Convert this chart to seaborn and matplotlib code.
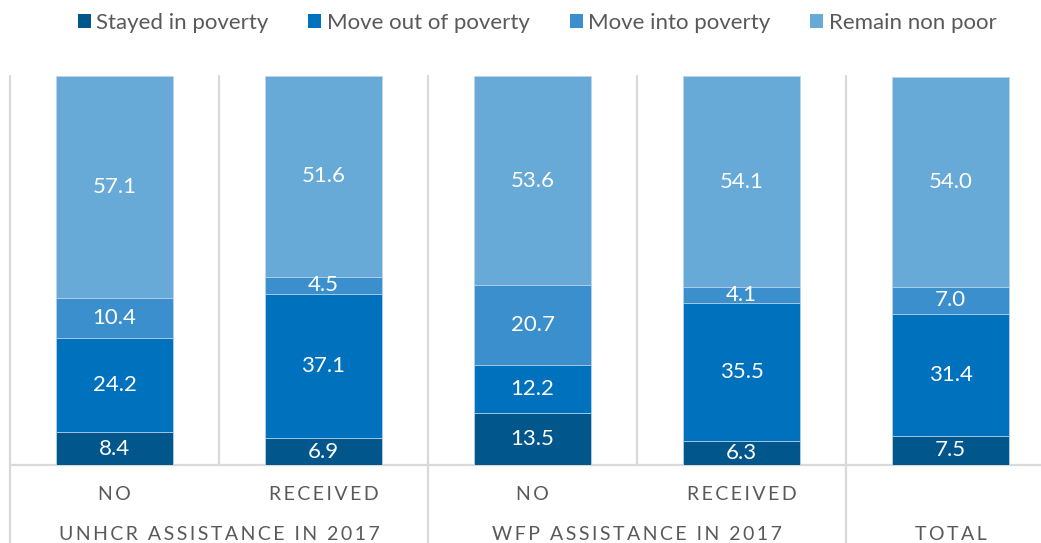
import matplotlib
matplotlib.use("Agg")
import matplotlib.pyplot as plt
import seaborn as sns
import pandas as pd
from matplotlib.patches import Patch

# Poverty transition shares (%) by assistance received in 2017
bar_keys = ["unhcr_no", "unhcr_received", "wfp_no", "wfp_received", "total"]
bar_labels = ["NO", "RECEIVED", "NO", "RECEIVED", ""]
group_labels = ["UNHCR ASSISTANCE IN 2017", "WFP ASSISTANCE IN 2017", "TOTAL"]
group_spans = [(0, 1), (2, 3), (4, 4)]

series = ["Stayed in poverty", "Move out of poverty", "Move into poverty", "Remain non poor"]
stayed = [8.4, 6.9, 13.5, 6.3, 7.5]
move_out = [24.2, 37.1, 12.2, 35.5, 31.4]
move_into = [10.4, 4.5, 20.7, 4.1, 7.0]
remain = [57.1, 51.6, 53.6, 54.1, 54.0]

colors = ["#01578b", "#0071bc", "#3b8fcd", "#67aad7"]
grid_color = "#d9d9d9"
text_color = "#595959"

df = pd.DataFrame({"bar": bar_keys, series[0]: stayed, series[1]: move_out,
                   series[2]: move_into, series[3]: remain})
cum = df[series].cumsum(axis=1)

sns.set_theme(style="white")
plt.rcParams["font.family"] = ["Lato", "DejaVu Sans"]

fig = plt.figure(figsize=(10.41, 5.43), dpi=100)
W, H = 1041, 543
ax_left, ax_right, ax_top, ax_bottom = 10, 1055, 76, 465
ax = fig.add_axes([ax_left / W, 1 - ax_bottom / H,
                   (ax_right - ax_left) / W, (ax_bottom - ax_top) / H])

# Stacked bars: draw cumulative totals from the top segment down
for i in range(len(series) - 1, -1, -1):
    sns.barplot(data=cum.assign(bar=bar_keys), x="bar", y=series[i], order=bar_keys,
                color=colors[i], saturation=1, width=0.56, edgecolor="#bcd6ec",
                linewidth=0.6, ax=ax, zorder=2)

# Segment value labels
for j, key in enumerate(bar_keys):
    for i, s in enumerate(series):
        v = df.loc[j, s]
        ymid = cum.loc[j, s] - v / 2
        ax.text(j, ymid, f"{v:.1f}", ha="center", va="center", color="white",
                fontsize=16, zorder=5)

ymax = cum[series[-1]].max()
ax.set_ylim(0, ymax)
ax.set_xlim(-0.5, len(bar_keys) - 0.5)
ax.set_xticks([])
ax.set_yticks([])
ax.set_xlabel("")
ax.set_ylabel("")
for sp in ax.spines.values():
    sp.set_visible(False)

xt = ax.get_xaxis_transform()
ax_h = ax_bottom - ax_top
below = -(H - ax_bottom) / ax_h

# Baseline
ax.plot([-0.5, len(bar_keys) - 0.5], [0, 0], transform=xt, color=grid_color,
        lw=1.6, clip_on=False, zorder=1)

# Vertical separators: group boundaries run through the label area
group_edges = {-0.5} | {g[1] + 0.5 for g in group_spans}
for k in range(len(bar_keys) + 1):
    x = k - 0.5
    y0 = below if x in group_edges else 0
    ax.plot([x, x], [y0, 1], transform=xt, color=grid_color, lw=1.6,
            clip_on=False, zorder=1)


def spaced(txt):
    return "  ".join("\u2009".join(w) for w in txt.split(" "))


for j, lab in enumerate(bar_labels):
    if lab:
        ax.text(j, -(494 - ax_bottom) / ax_h, spaced(lab), transform=xt,
                ha="center", va="center", fontsize=14, color=text_color)

for (a, b), lab in zip(group_spans, group_labels):
    ax.text((a + b) / 2, -(534.5 - ax_bottom) / ax_h, spaced(lab), transform=xt,
            ha="center", va="center", fontsize=14, color=text_color)

handles = [Patch(facecolor=c, edgecolor="none") for c in colors]
fig.legend(handles, series, loc="center", bbox_to_anchor=(0.516, 1 - 23 / H),
           ncol=4, frameon=False, fontsize=16, labelcolor=text_color,
           handlelength=0.58, handleheight=0.58, handletextpad=0.25,
           columnspacing=1.8)

fig.savefig("out.png", dpi=100)
